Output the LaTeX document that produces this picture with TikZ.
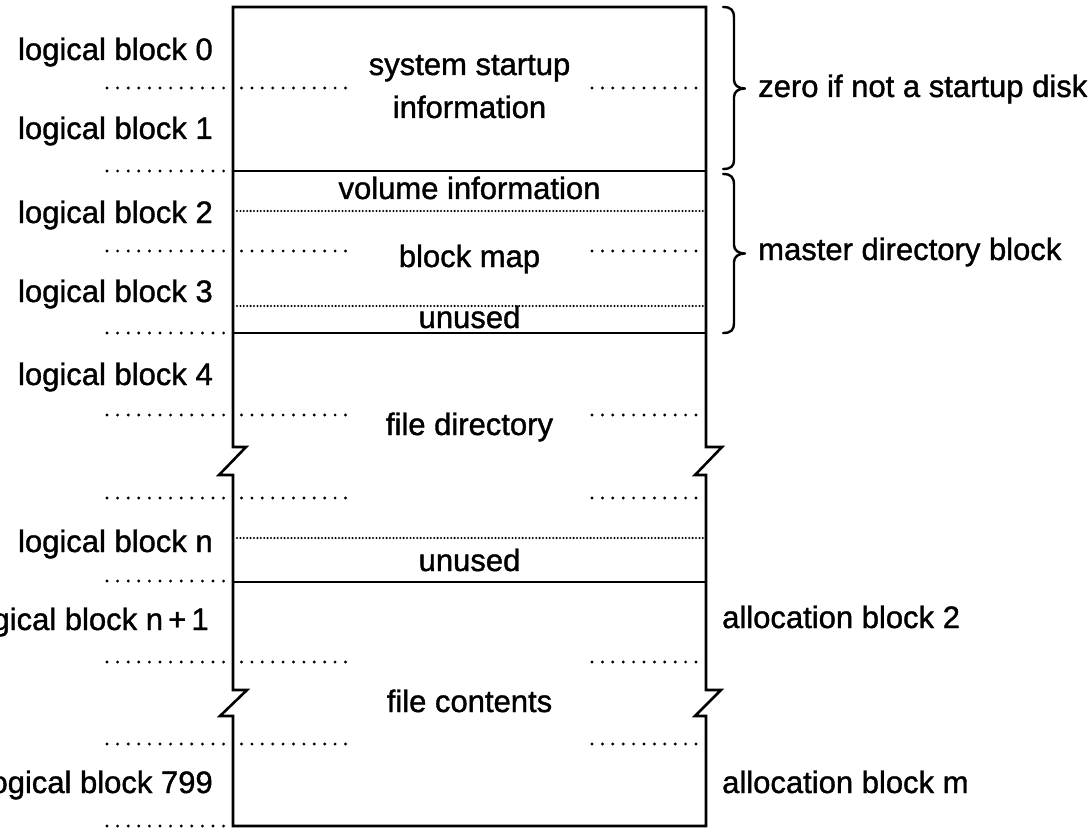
\documentclass[tikz,border=0pt]{standalone}
\usepackage{fontspec}
\setmainfont[FakeBold=1.2,AutoFakeBold=1.2]{Liberation Sans}
\begin{document}
\begin{tikzpicture}[x=1pt,y=-1pt,
  lbl/.style={font=\fontsize{31}{36}\selectfont\bfseries, inner sep=0pt},
  lleft/.style={lbl, anchor=base east},
  lmid/.style={lbl, anchor=base},
  lright/.style={lbl, anchor=base west},
  border/.style={line width=2.6pt, line join=miter},
  sepline/.style={line width=2.6pt},
  outdots/.style={line width=3.2pt, line cap=round, dash pattern=on 0pt off 10.6pt},
  indots/.style={line width=3.2pt, line cap=round, dash pattern=on 0pt off 10.4pt},
  finedots/.style={line width=2.3pt, line cap=round, dash pattern=on 0pt off 3.4pt},
  bracepath/.style={line width=2.4pt, line cap=round, line join=round}]
\useasboundingbox (0,0) rectangle (1089,829);
\clip (0,0) rectangle (1089,829);
\fill[white] (0,0) rectangle (1089,829);

% outline of the volume with the two breaks
\draw[border] (233,7) -- (706,7) -- (706,447) -- (722,447) -- (695,475) -- (706,475)
  -- (706,690) -- (721,690) -- (695,716) -- (706,716) -- (706,826) -- (233,826)
  -- (233,716) -- (220,716) -- (247,690) -- (233,690) -- (233,475) -- (219,475)
  -- (246,447) -- (233,447) -- cycle;

% solid separators
\draw[sepline] (233,171) -- (706,171);
\draw[sepline] (233,333) -- (706,333);
\draw[sepline] (233,582) -- (706,582);

% fine dotted separators
\draw[finedots] (237,211) -- (703,211);
\draw[finedots] (237,306) -- (703,306);
\draw[finedots] (237,538) -- (703,538);

% block boundaries outside
\foreach \y in {88,171,251,333,415,498,581,662,744,826}
  \draw[outdots] (107,\y) -- (223.6,\y);
% block boundaries inside
\foreach \y in {88,251,415,498,662,744} {
  \draw[indots] (241.5,\y) -- (345.5,\y);
  \draw[indots] (592,\y) -- (696,\y);
}

% braces
\draw[bracepath] (723,7) .. controls (731,7) and (734,10) .. (734,18) -- (734,80)
  .. controls (734,85) and (738,88.5) .. (745,88.5)
  .. controls (738,88.5) and (734,92) .. (734,97) -- (734,160)
  .. controls (734,166) and (731,169) .. (723,169);
\draw[bracepath] (723,174) .. controls (731,174) and (734,177) .. (734,185) -- (734,245)
  .. controls (734,250) and (738,253.5) .. (745,253.5)
  .. controls (738,253.5) and (734,257) .. (734,262) -- (734,323)
  .. controls (734,330) and (731,333) .. (723,333);

% left labels
\node[lleft] (lb0) at (213,60) {logical block 0};
\node[lleft] (lb1) at (213,139) {logical block 1};
\node[lleft] (lb2) at (213,223) {logical block 2};
\node[lleft] (lb3) at (213,302) {logical block 3};
\node[lleft] (lb4) at (213,385) {logical block 4};
\node[lleft] (lbn) at (213,552) {logical block n};
\node[lleft] (lbn1) at (209,630) {logical block n\,+\,1};
\node[lleft] (lb799) at (213,793) {logical block 799};

% contents
\node[lmid] (sys1) at (469.5,75) {system startup};
\node[lmid] (sys2) at (469.5,118) {information};
\node[lmid] (vol) at (469.5,199) {volume information};
\node[lmid] (bmap) at (469.5,267) {block map};
\node[lmid] (unused1) at (469.5,328) {unused};
\node[lmid] (fdir) at (469.5,435) {file directory};
\node[lmid] (unused2) at (469.5,571) {unused};
\node[lmid] (fcont) at (469.5,712) {file contents};

% right labels
\node[lright] (zero) at (758,97) {zero if not a startup disk};
\node[lright] (mdb) at (758,260) {master directory block};
\node[lright] (ab2) at (722,628) {allocation block 2};
\node[lright] (abm) at (722,793) {allocation block m};
\end{tikzpicture}
\end{document}
